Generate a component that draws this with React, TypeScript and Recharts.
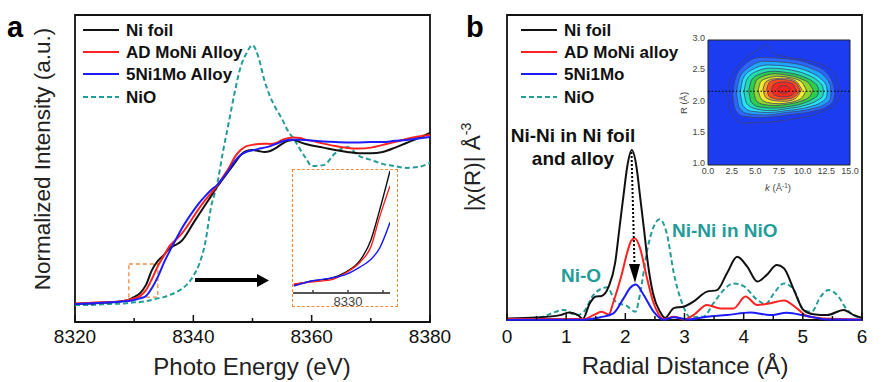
import React from 'react'
import {
  LineChart,
  ComposedChart,
  Line,
  Area,
  XAxis,
  YAxis,
  ReferenceArea,
  ReferenceLine,
} from 'recharts'

// ---- panel a: Ni K-edge XANES (normalized, arbitrary units 0-100) ----
const energy = [
  8320, 8322, 8324, 8326, 8328, 8329, 8330, 8331, 8332, 8333, 8334, 8335, 8336, 8337, 8338, 8340,
  8341, 8342, 8343, 8344, 8345, 8346, 8347, 8348, 8349, 8350, 8351, 8352, 8353, 8354, 8355, 8356,
  8357, 8358, 8359, 8360, 8362, 8364, 8366, 8368, 8370, 8372, 8374, 8376, 8378, 8380,
]
const niFoilXanes = [
  5.9, 6.0, 6.2, 6.4, 6.8, 7.2, 8.1, 9.4, 12.1, 16.9, 19.9, 21.8, 24.1, 25.1, 26.4, 32.2,
  35.2, 38.1, 41.0, 44.0, 46.6, 49.2, 51.8, 54.4, 55.7, 56.0, 55.7, 55.4, 55.7, 56.7, 58.0, 59.0,
  59.3, 58.6, 58.0, 57.5, 56.8, 56.0, 55.4, 55.0, 55.0, 55.4, 56.7, 58.3, 59.9, 61.6,
]
const moNiXanes = [
  6.0, 6.2, 6.4, 6.5, 6.8, 7.2, 7.7, 8.5, 10.4, 14.0, 18.2, 21.5, 24.8, 26.7, 28.7, 34.2,
  37.1, 39.7, 42.0, 44.3, 47.2, 50.2, 53.7, 56.0, 57.3, 57.7, 58.0, 58.1, 58.0, 58.3, 59.3, 59.9,
  60.1, 59.9, 59.4, 59.0, 58.1, 57.3, 56.7, 56.5, 56.8, 57.7, 58.6, 59.6, 60.4, 60.9,
]
const ni5Mo1Xanes = [
  5.9, 6.0, 6.2, 6.4, 6.7, 6.8, 7.2, 7.7, 8.5, 11.1, 14.7, 19.2, 23.1, 26.7, 30.3, 36.2,
  38.8, 41.0, 43.0, 44.6, 46.9, 49.5, 52.4, 54.4, 55.4, 55.9, 56.4, 56.8, 57.3, 58.0, 58.8, 59.3,
  59.4, 59.4, 59.3, 59.1, 58.8, 58.6, 58.5, 58.5, 58.6, 58.6, 59.0, 59.3, 59.8, 60.3,
]
const nioXanes = [
  5.5, 5.5, 5.7, 5.9, 6.0, 6.2, 6.4, 6.5, 6.8, 7.2, 7.7, 8.1, 8.8, 9.6, 10.7, 15.0,
  18.9, 25.7, 37.5, 44.6, 55.4, 65.1, 74.9, 83.1, 87.6, 90.2, 86.3, 78.8, 73.3, 69.4, 66.1, 62.2,
  59.6, 56.4, 53.4, 50.8, 51.1, 55.0, 57.0, 54.1, 52.8, 51.5, 50.8, 50.2, 50.5, 51.8,
]

// pre-edge zoom inset
const insetEnergy = [8326.9, 8328, 8329, 8329.9, 8330.7, 8331.3, 8331.8, 8332.4]
const insetFoil = [6.4, 9.9, 11.7, 17.0, 26.4, 42.4, 66.4, 98.4]
const insetMoNi = [7.2, 9.1, 10.6, 16.5, 25.0, 37.0, 61.0, 86.4]
const insetNi5Mo1 = [5.6, 9.9, 12.0, 15.0, 21.0, 27.0, 36.0, 57.0]

// ---- panel b: FT-EXAFS |chi(R)| (arbitrary units 0-10) ----
const foilR = [
  0, 0.5, 0.9, 1.05, 1.2, 1.28, 1.4, 1.5, 1.6, 1.72, 1.83, 1.9, 1.97, 2.03, 2.11, 2.19, 2.25, 2.32,
  2.38, 2.47, 2.59, 2.67, 2.82, 2.99, 3.15, 3.38, 3.55, 3.72, 3.89, 4.06, 4.23, 4.39, 4.56, 4.68,
  4.85, 5.01, 5.18, 5.41, 5.69, 5.86, 6.0,
]
const foilChi = [
  0.05, 0.08, 0.16, 0.25, 0.16, 0.03, 0.55, 0.77, 0.79, 1.1, 1.9, 3.0, 4.1, 5.0, 5.57, 5.0, 4.04, 2.9,
  1.87, 0.85, 0.26, 0.07, 0.39, 0.44, 0.6, 0.93, 0.98, 1.54, 2.07, 1.75, 1.26, 1.48, 1.8, 1.7,
  0.98, 0.33, 0.19, 0.16, 0.33, 0.16, 0.07,
]
const moNiR = [
  0, 1.0, 1.3, 1.46, 1.6, 1.72, 1.8, 1.94, 2.03, 2.1, 2.16, 2.25, 2.36, 2.47, 2.56, 2.65, 2.82, 2.99,
  3.15, 3.38, 3.61, 3.83, 4.03, 4.23, 4.45, 4.68, 4.9, 5.07, 5.35, 6.0,
]
const moNiChi = [
  0.03, 0.03, 0.03, 0.16, 0.27, 0.18, 0.6, 1.5, 2.2, 2.6, 2.68, 2.35, 1.42, 0.6, 0.2, 0.03, 0.11, 0.02,
  0.16, 0.49, 0.38, 0.38, 0.77, 0.49, 0.55, 0.64, 0.38, 0.13, 0.05, 0.02,
]
const ni5Mo1R = [
  0, 1.3, 1.58, 1.8, 1.97, 2.08, 2.18, 2.31, 2.48, 2.65, 2.82, 3.04, 3.38, 3.72, 4.11, 4.45, 4.73,
  5.07, 5.41, 6.0,
]
const ni5Mo1Chi = [
  0.01, 0.01, 0.09, 0.22, 0.71, 1.05, 1.16, 0.82, 0.27, 0.01, 0.09, 0.02, 0.11, 0.16, 0.25, 0.16, 0.24,
  0.13, 0.02, 0.01,
]
const nioR = [
  0, 0.56, 0.96, 1.18, 1.3, 1.46, 1.69, 1.86, 2.0, 2.17, 2.25, 2.37, 2.48, 2.58, 2.7, 2.82, 2.96, 3.1,
  3.32, 3.49, 3.66, 3.83, 4.0, 4.23, 4.37, 4.51, 4.68, 4.85, 5.01, 5.15, 5.3, 5.44, 5.58, 5.75, 5.94,
]
const nioChi = [
  0.02, 0.09, 0.33, 0.16, 0.27, 0.82, 1.07, 0.55, 0.49, 0.27, 0.87, 2.3, 3.06, 3.3, 2.84, 1.53, 0.55, 0.09,
  0.11, 0.55, 0.98, 1.2, 1.11, 0.66, 0.52, 0.87, 1.2, 0.98, 0.33, 0.27, 0.77, 0.98, 0.82, 0.33, 0.09,
]

// ---- wavelet transform contour rings: [k, R low, R high], outer to inner ----
const ringOuter = [[2.05, 2.12, 2.12], [2.3, 1.9, 2.36], [2.65, 1.77, 2.47], [3.7, 1.67, 2.66], [5.5, 1.68, 2.86], [6.2, 1.68, 2.92], [6.9, 1.69, 2.79], [8.3, 1.72, 2.73], [11.1, 1.8, 2.65], [12.5, 1.88, 2.57], [13.5, 1.97, 2.42], [13.9, 2.1, 2.2], [14.0, 2.15, 2.15]]
const ring1 = [[2.6, 2.12, 2.12], [2.9, 1.88, 2.38], [3.7, 1.78, 2.58], [5.5, 1.76, 2.72], [8.3, 1.8, 2.7], [11.1, 1.86, 2.6], [12.5, 1.93, 2.48], [13.2, 2.02, 2.3], [13.4, 2.15, 2.15]]
const ring2 = [[3.0, 2.15, 2.15], [3.3, 1.92, 2.38], [4.2, 1.82, 2.55], [6.0, 1.8, 2.66], [8.3, 1.84, 2.64], [11.0, 1.9, 2.54], [12.3, 1.97, 2.42], [12.9, 2.05, 2.28], [13.0, 2.16, 2.16]]
const ring3 = [[3.4, 2.16, 2.16], [3.7, 1.95, 2.38], [4.6, 1.86, 2.52], [6.3, 1.84, 2.6], [8.3, 1.87, 2.58], [10.7, 1.93, 2.49], [11.9, 2.0, 2.38], [12.5, 2.08, 2.27], [12.6, 2.17, 2.17]]
const ring4 = [[3.8, 2.17, 2.17], [4.1, 1.98, 2.37], [5.0, 1.9, 2.49], [6.6, 1.87, 2.55], [8.3, 1.9, 2.53], [10.4, 1.96, 2.45], [11.5, 2.03, 2.36], [12.1, 2.1, 2.26], [12.2, 2.18, 2.18]]
const ring5 = [[4.3, 2.18, 2.18], [4.6, 2.0, 2.36], [5.4, 1.93, 2.45], [6.9, 1.91, 2.5], [8.3, 1.93, 2.48], [10.1, 1.99, 2.41], [11.1, 2.06, 2.33], [11.6, 2.12, 2.25], [11.7, 2.19, 2.19]]
const ring6 = [[4.8, 2.19, 2.19], [5.1, 2.03, 2.35], [5.8, 1.97, 2.42], [7.1, 1.95, 2.46], [8.3, 1.97, 2.44], [9.8, 2.02, 2.38], [10.7, 2.09, 2.3], [11.1, 2.2, 2.2]]
const ring7 = [[5.3, 2.2, 2.2], [5.6, 2.06, 2.34], [6.3, 2.0, 2.39], [7.5, 1.98, 2.42], [8.6, 2.0, 2.4], [9.8, 2.06, 2.34], [10.4, 2.2, 2.2]]
const ring8 = [[5.8, 2.21, 2.21], [6.1, 2.08, 2.33], [7.0, 2.03, 2.38], [8.1, 2.02, 2.39], [9.2, 2.06, 2.35], [9.9, 2.21, 2.21]]
const ring9 = [[6.2, 2.21, 2.21], [6.5, 2.09, 2.33], [7.5, 2.05, 2.37], [8.5, 2.06, 2.36], [9.3, 2.11, 2.31], [9.7, 2.21, 2.21]]
const ring10 = [[6.7, 2.21, 2.21], [7.0, 2.12, 2.3], [8.0, 2.09, 2.33], [8.9, 2.12, 2.3], [9.3, 2.21, 2.21]]
const ring11 = [[7.3, 2.21, 2.21], [7.6, 2.16, 2.26], [8.2, 2.15, 2.27], [8.7, 2.21, 2.21]]
const waveletRings = [ringOuter, ring1, ring2, ring3, ring4, ring5, ring6, ring7, ring8, ring9, ring10, ring11]
const ringColors = ['#1c3cf2', '#2a66ff', '#1fa4ff', '#26e4f6', '#22dcae', '#2ccf4a', '#8fd62c', '#f2ec2a', '#ffa51f', '#ff4a1c', '#f52a1c', '#f2241a']

const energyTicks = [8320, 8330, 8340, 8350, 8360, 8370, 8380]
const radialTicks = [0, 0.5, 1, 1.5, 2, 2.5, 3, 3.5, 4, 4.5, 5, 5.5, 6]
const kTicks = [0, 2.5, 5, 7.5, 10, 12.5, 15]
const rTicks = [1, 1.5, 2, 2.5, 3]

const BLACK = '#111111'
const RED = '#ff2222'
const BLUE = '#1c1cff'
const TEAL = '#239c98'
const ORANGE = '#f28a3c'
const FONT = '"Liberation Sans", Arial, sans-serif'

const toRows = (xs: number[], ys: number[]) => xs.map((x, i) => ({ x, y: ys[i] }))

// inward tick marks, label only on majors
const inwardTick = (isMajor: (v: number) => boolean, dy: number, fontSize = 19, color = '#111', major = 7, minor = 4) =>
  (props: any) => {
    const { x, y, payload } = props
    const big = isMajor(payload.value)
    return (
      <g>
        <line x1={x} x2={x} y1={y} y2={y - (big ? major : minor)} stroke={color} strokeWidth={1.5} />
        {big && (
          <text x={x} y={y + dy} textAnchor="middle" fontSize={fontSize} fill={color} fontFamily={FONT}>
            {payload.value}
          </text>
        )}
      </g>
    )
  }

function XanesPanel() {
  return (
    <div style={{ position: 'absolute', left: 0, top: 0 }}>
      <LineChart width={475} height={382} margin={{ top: 15, right: 45, bottom: 0, left: 75 }}>
        <XAxis
          dataKey="x"
          type="number"
          domain={[8320, 8380]}
          ticks={energyTicks}
          interval={0}
          allowDataOverflow
          height={60}
          axisLine={false}
          tickLine={false}
          tickSize={0}
          tickMargin={0}
          tick={inwardTick((v) => v % 20 === 0, 21)}
        />
        <YAxis hide domain={[0, 100]} />
        <ReferenceArea x1={8320} x2={8380} y1={0} y2={100} fill="none" stroke={BLACK} strokeWidth={1.8} ifOverflow="visible" />
        <ReferenceArea x1={8329.1} x2={8334} y1={8.1} y2={18.9} fill="none" stroke={ORANGE} strokeWidth={1.3} strokeDasharray="4 3" ifOverflow="visible" />
        <Line data={toRows(energy, nioXanes)} dataKey="y" type="monotone" stroke={TEAL} strokeWidth={2} strokeDasharray="5 3" dot={false} isAnimationActive={false} />
        <Line data={toRows(energy, niFoilXanes)} dataKey="y" type="monotone" stroke={BLACK} strokeWidth={2} dot={false} isAnimationActive={false} />
        <Line data={toRows(energy, moNiXanes)} dataKey="y" type="monotone" stroke={RED} strokeWidth={2} dot={false} isAnimationActive={false} />
        <Line data={toRows(energy, ni5Mo1Xanes)} dataKey="y" type="monotone" stroke={BLUE} strokeWidth={2} dot={false} isAnimationActive={false} />
      </LineChart>
    </div>
  )
}

function EdgeInset() {
  return (
    <>
      <div
        style={{
          position: 'absolute', left: 292, top: 169, width: 106, height: 138,
          border: `1.5px dashed ${ORANGE}`, boxSizing: 'border-box',
        }}
      />
      <div style={{ position: 'absolute', left: 292, top: 169 }}>
        <LineChart width={106} height={146} margin={{ top: 0, right: 8, bottom: 8, left: 1 }}>
          <XAxis
            dataKey="x"
            type="number"
            domain={[8326.86, 8332.4]}
            ticks={[8328, 8330, 8332]}
            interval={0}
            allowDataOverflow
            height={14}
            axisLine={{ stroke: '#555', strokeWidth: 2 }}
            tickLine={false}
            tickSize={0}
            tickMargin={0}
            tick={inwardTick((v) => v === 8330, 13, 13, '#444', 3, 3)}
          />
          <YAxis hide domain={[0, 100]} allowDataOverflow />
          <Line data={toRows(insetEnergy, insetFoil)} dataKey="y" type="monotone" stroke={BLACK} strokeWidth={1.4} dot={false} isAnimationActive={false} />
          <Line data={toRows(insetEnergy, insetMoNi)} dataKey="y" type="monotone" stroke={RED} strokeWidth={1.4} dot={false} isAnimationActive={false} />
          <Line data={toRows(insetEnergy, insetNi5Mo1)} dataKey="y" type="monotone" stroke={BLUE} strokeWidth={1.4} dot={false} isAnimationActive={false} />
        </LineChart>
      </div>
    </>
  )
}

function ExafsPanel() {
  return (
    <div style={{ position: 'absolute', left: 440, top: 0 }}>
      <LineChart width={447} height={382} margin={{ top: 15, right: 25, bottom: 0, left: 67 }}>
        <XAxis
          dataKey="x"
          type="number"
          domain={[0, 6]}
          ticks={radialTicks}
          interval={0}
          allowDataOverflow
          height={62}
          axisLine={false}
          tickLine={false}
          tickSize={0}
          tickMargin={0}
          tick={inwardTick((v) => Number.isInteger(v), 23)}
        />
        <YAxis hide domain={[0, 10]} />
        <ReferenceArea x1={0} x2={6} y1={0} y2={10} fill="none" stroke={BLACK} strokeWidth={1.8} ifOverflow="visible" />
        <Line data={toRows(nioR, nioChi)} dataKey="y" type="monotone" stroke={TEAL} strokeWidth={2} strokeDasharray="5 3" dot={false} isAnimationActive={false} />
        <Line data={toRows(foilR, foilChi)} dataKey="y" type="monotone" stroke={BLACK} strokeWidth={2} dot={false} isAnimationActive={false} />
        <Line data={toRows(moNiR, moNiChi)} dataKey="y" type="monotone" stroke={RED} strokeWidth={2} dot={false} isAnimationActive={false} />
        <Line data={toRows(ni5Mo1R, ni5Mo1Chi)} dataKey="y" type="monotone" stroke={BLUE} strokeWidth={2} dot={false} isAnimationActive={false} />
      </LineChart>
    </div>
  )
}

function WaveletInset() {
  return (
    <div style={{ position: 'absolute', left: 670, top: 30 }}>
      <ComposedChart width={197} height={152} margin={{ top: 10, right: 17, bottom: 2, left: 8 }}>
        <XAxis
          dataKey="k"
          type="number"
          domain={[0, 15]}
          ticks={kTicks}
          interval={0}
          height={15}
          axisLine={false}
          tickLine={false}
          tickSize={0}
          tickMargin={3}
          tickFormatter={(v) => v.toFixed(1)}
          tick={{ fontSize: 9, fill: '#444', fontFamily: FONT }}
        />
        <YAxis
          type="number"
          domain={[1, 3]}
          ticks={rTicks}
          interval={0}
          width={30}
          axisLine={false}
          tickLine={false}
          tickSize={0}
          tickMargin={3}
          tickFormatter={(v) => v.toFixed(1)}
          tick={{ fontSize: 9, fill: '#444', fontFamily: FONT, dy: -2 }}
        />
        <Area
          data={[{ k: 0, r: [1, 3] }, { k: 15, r: [1, 3] }]}
          dataKey="r"
          type="linear"
          fill={ringColors[0]}
          fillOpacity={1}
          stroke="none"
          isAnimationActive={false}
          activeDot={false}
        />
        {waveletRings.map((ring, i) => (
          <Area
            key={i}
            data={ring.map(([k, lo, hi]) => ({ k, r: [lo, hi] }))}
            dataKey="r"
            type="monotone"
            fill={ringColors[i]}
            fillOpacity={1}
            stroke="#3a4170"
            strokeWidth={0.8}
            isAnimationActive={false}
            activeDot={false}
          />
        ))}
        <ReferenceLine y={2.18} stroke="#000" strokeWidth={1.2} strokeDasharray="1.5 2" />
        <ReferenceArea x1={0} x2={15} y1={1} y2={3} fill="none" stroke="#222" strokeWidth={1} ifOverflow="visible" />
      </ComposedChart>
    </div>
  )
}

const legendRows = [30, 52, 74, 97]

function Legend({ x, labels }: { x: number; labels: string[] }) {
  const colors = [BLACK, RED, BLUE, TEAL]
  return (
    <g>
      {labels.map((label, i) => (
        <g key={label}>
          <line
            x1={x}
            x2={x + 36}
            y1={legendRows[i]}
            y2={legendRows[i]}
            stroke={colors[i]}
            strokeWidth={2.2}
            strokeDasharray={i === 3 ? '5 3' : undefined}
          />
          <text x={x + 43} y={legendRows[i] + 6} fontSize={17} fontWeight="bold" fill="#111">
            {label}
          </text>
        </g>
      ))}
    </g>
  )
}

function Annotations() {
  return (
    <svg
      width={887}
      height={382}
      style={{ position: 'absolute', left: 0, top: 0, pointerEvents: 'none', fontFamily: FONT }}
    >
      <text x={7} y={37} fontSize={29} fontWeight="bold" fill="#000">a</text>
      <text x={466} y={37} fontSize={29} fontWeight="bold" fill="#000">b</text>

      <Legend x={83} labels={['Ni foil', 'AD MoNi Alloy', '5Ni1Mo Alloy', 'NiO']} />
      <Legend x={521} labels={['Ni foil', 'AD MoNi alloy', '5Ni1Mo', 'NiO']} />

      <text x={252} y={375} textAnchor="middle" fontSize={24} fill="#222">Photo Energy (eV)</text>
      <text transform="translate(50,159) rotate(-90)" textAnchor="middle" fontSize={22.5} fill="#222">
        Normalized Intensity (a.u.)
      </text>
      <text x={685} y={374} textAnchor="middle" fontSize={24} fill="#222">Radial Distance (Å)</text>
      <text transform="translate(480,167) rotate(-90)" textAnchor="middle" fontSize={22.5} fill="#222">
        |χ(R)| Å<tspan dy={-9} fontSize={14}>-3</tspan>
      </text>

      {/* arrow to the pre-edge inset */}
      <line x1={195} x2={259} y1={280} y2={280} stroke="#000" strokeWidth={4} />
      <polygon points="257,274 257,287 269,280.5" fill="#000" />

      {/* wavelet inset labels */}
      <text transform="translate(687,103) rotate(-90)" textAnchor="middle" fontSize={9.5} fill="#444">R (Å)</text>
      <text x={778} y={191} textAnchor="middle" fontSize={9.5} fill="#444">
        <tspan fontStyle="italic">k</tspan> (Å<tspan dy={-3} fontSize={6.5}>-1</tspan><tspan dy={3}>)</tspan>
      </text>

      {/* EXAFS annotations */}
      <text x={573} y={142} textAnchor="middle" fontSize={19} fontWeight="bold" fill="#111">Ni-Ni in Ni foil</text>
      <text x={573} y={165} textAnchor="middle" fontSize={19} fontWeight="bold" fill="#111">and alloy</text>
      <line x1={631.5} y1={152} x2={634.5} y2={265} stroke="#000" strokeWidth={2} strokeDasharray="2 2" />
      <polygon points="629,264 640,264 635,283" fill="#000" />
      <text x={672} y={237} fontSize={19} fontWeight="bold" fill={TEAL}>Ni-Ni in NiO</text>
      <text x={561} y={282} fontSize={19} fontWeight="bold" fill={TEAL}>Ni-O</text>
    </svg>
  )
}

export default function App() {
  return (
    <div
      style={{
        position: 'absolute',
        left: 0,
        top: 0,
        width: 887,
        height: 382,
        background: '#fff',
        fontFamily: FONT,
        overflow: 'hidden',
      }}
    >
      <XanesPanel />
      <ExafsPanel />
      <EdgeInset />
      <WaveletInset />
      <Annotations />
    </div>
  )
}
